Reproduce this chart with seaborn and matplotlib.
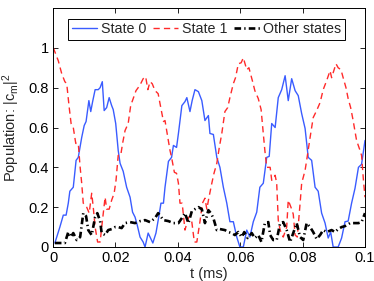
import numpy as np
import pandas as pd
import matplotlib
matplotlib.use("Agg")
import matplotlib.pyplot as plt
import seaborn as sns

# ---- data (t in ms) ----
t_state0 = [0.0006, 0.0022, 0.0033, 0.0042, 0.0049, 0.0054, 0.0065, 0.0074, 0.0081, 0.0092,
            0.0100, 0.0106, 0.0115, 0.0121, 0.0127, 0.0135, 0.0145, 0.0151, 0.0158, 0.0164,
            0.0172, 0.0180, 0.0188, 0.0193, 0.0201, 0.0209, 0.0215, 0.0225, 0.0236, 0.0247,
            0.0255, 0.0263, 0.0270, 0.0279, 0.0289, 0.0295, 0.0305, 0.0311, 0.0320, 0.0330,
            0.0341, 0.0346, 0.0354, 0.0359, 0.0370, 0.0380, 0.0386, 0.0396, 0.0402, 0.0413,
            0.0423, 0.0429, 0.0439, 0.0446, 0.0455, 0.0466, 0.0477, 0.0487, 0.0498, 0.0503,
            0.0514, 0.0525, 0.0535, 0.0546, 0.0557, 0.0567, 0.0578, 0.0589, 0.0599, 0.0610,
            0.0621, 0.0631, 0.0642, 0.0653, 0.0663, 0.0674, 0.0685, 0.0693, 0.0701, 0.0712,
            0.0722, 0.0733, 0.0744, 0.0754, 0.0765, 0.0776, 0.0786, 0.0797, 0.0808, 0.0818,
            0.0829, 0.0840, 0.0850, 0.0861, 0.0872, 0.0882, 0.0890, 0.0898, 0.0914, 0.0925,
            0.0936, 0.0946, 0.0957, 0.0968, 0.0979, 0.0989, 0.1000]
p_state0 = [0.02, 0.10, 0.16, 0.16, 0.22, 0.28, 0.30, 0.435, 0.45, 0.55,
            0.61, 0.63, 0.735, 0.68, 0.73, 0.79, 0.79, 0.80, 0.83, 0.685,
            0.70, 0.75, 0.71, 0.69, 0.62, 0.485, 0.42, 0.38, 0.30, 0.25,
            0.175, 0.15, 0.11, 0.05, 0.025, 0.0, 0.07, 0.05, 0.02, 0.07,
            0.17, 0.22, 0.22, 0.30, 0.43, 0.45, 0.51, 0.50, 0.57, 0.71,
            0.73, 0.75, 0.68, 0.735, 0.79, 0.78, 0.735, 0.635, 0.66, 0.57,
            0.565, 0.45, 0.40, 0.30, 0.22, 0.127, 0.127, 0.05, 0.0, 0.0,
            0.085, 0.05, 0.127, 0.175, 0.30, 0.32, 0.45, 0.455, 0.62, 0.60,
            0.75, 0.79, 0.86, 0.735, 0.845, 0.785, 0.76, 0.67, 0.595, 0.45,
            0.435, 0.30, 0.28, 0.17, 0.12, 0.045, 0.075, 0.0, 0.0, 0.045,
            0.127, 0.13, 0.22, 0.295, 0.40, 0.415, 0.535]

t_state1 = [0.0001, 0.0017, 0.0028, 0.0038, 0.0044, 0.0052, 0.0058, 0.0065, 0.0073, 0.0081,
            0.0087, 0.0092, 0.0097, 0.0108, 0.0116, 0.0124, 0.0129, 0.0135, 0.0143, 0.0151,
            0.0159, 0.0167, 0.0172, 0.0180, 0.0188, 0.0196, 0.0202, 0.0209, 0.0217, 0.0223,
            0.0231, 0.0241, 0.0249, 0.0257, 0.0266, 0.0273, 0.0281, 0.0289, 0.0297, 0.0304,
            0.0311, 0.0318, 0.0327, 0.0337, 0.0343, 0.0354, 0.0359, 0.0368, 0.0375, 0.0380,
            0.0389, 0.0396, 0.0402, 0.0407, 0.0414, 0.0423, 0.0434, 0.0445, 0.0453, 0.0461,
            0.0471, 0.0479, 0.0487, 0.0493, 0.0500, 0.0509, 0.0516, 0.0525, 0.0533, 0.0541,
            0.0551, 0.0560, 0.0567, 0.0578, 0.0585, 0.0594, 0.0603, 0.0610, 0.0621, 0.0628,
            0.0639, 0.0647, 0.0658, 0.0667, 0.0674, 0.0679, 0.0685, 0.0696, 0.0701, 0.0712,
            0.0717, 0.0722, 0.0728, 0.0738, 0.0749, 0.0754, 0.0765, 0.0770, 0.0776, 0.0783,
            0.0792, 0.0797, 0.0808, 0.0813, 0.0824, 0.0834, 0.0845, 0.0856, 0.0866, 0.0877,
            0.0888, 0.0893, 0.0898, 0.0907, 0.0914, 0.0923, 0.0930, 0.0939, 0.0946, 0.0954,
            0.0962, 0.0973, 0.0984, 0.0989, 0.0995, 0.1000]
p_state1 = [1.0, 0.935, 0.87, 0.83, 0.82, 0.70, 0.62, 0.60, 0.52, 0.52,
            0.40, 0.32, 0.22, 0.20, 0.17, 0.27, 0.20, 0.10, 0.025, 0.025,
            0.14, 0.25, 0.19, 0.19, 0.235, 0.27, 0.335, 0.46, 0.46, 0.52,
            0.585, 0.62, 0.71, 0.745, 0.785, 0.80, 0.82, 0.845, 0.855, 0.79,
            0.83, 0.82, 0.785, 0.77, 0.72, 0.63, 0.635, 0.55, 0.485, 0.45,
            0.375, 0.37, 0.32, 0.22, 0.22, 0.085, 0.15, 0.125, 0.025, 0.025,
            0.127, 0.22, 0.245, 0.19, 0.25, 0.32, 0.37, 0.42, 0.50, 0.57,
            0.68, 0.70, 0.75, 0.82, 0.85, 0.92, 0.925, 0.95, 0.89, 0.90,
            0.835, 0.785, 0.745, 0.69, 0.57, 0.485, 0.40, 0.40, 0.335, 0.36,
            0.32, 0.135, 0.085, 0.05, 0.10, 0.235, 0.19, 0.165, 0.06, 0.05,
            0.22, 0.32, 0.385, 0.435, 0.55, 0.65, 0.685, 0.725, 0.79, 0.835,
            0.885, 0.85, 0.875, 0.92, 0.90, 0.89, 0.85, 0.80, 0.745, 0.70,
            0.635, 0.535, 0.485, 0.46, 0.335, 0.25]

t_other = [0.0006, 0.0022, 0.0038, 0.0049, 0.0057, 0.0065, 0.0076, 0.0087, 0.0097, 0.0106,
           0.0113, 0.0124, 0.0135, 0.0142, 0.0151, 0.0156, 0.0167, 0.0177, 0.0188, 0.0199,
           0.0209, 0.0220, 0.0231, 0.0247, 0.0263, 0.0279, 0.0295, 0.0311, 0.0327, 0.0337,
           0.0354, 0.0370, 0.0386, 0.0402, 0.0413, 0.0423, 0.0434, 0.0445, 0.0455, 0.0466,
           0.0477, 0.0487, 0.0498, 0.0506, 0.0514, 0.0525, 0.0535, 0.0551, 0.0562, 0.0573,
           0.0583, 0.0594, 0.0605, 0.0613, 0.0624, 0.0637, 0.0647, 0.0658, 0.0668, 0.0679,
           0.0690, 0.0696, 0.0706, 0.0717, 0.0728, 0.0738, 0.0749, 0.0760, 0.0770, 0.0781,
           0.0792, 0.0802, 0.0813, 0.0824, 0.0834, 0.0845, 0.0856, 0.0866, 0.0877, 0.0893,
           0.0904, 0.0914, 0.0925, 0.0936, 0.0952, 0.0968, 0.0979, 0.0989, 0.1000]
p_other = [0.02, 0.02, 0.02, 0.075, 0.05, 0.07, 0.035, 0.05, 0.17, 0.155,
           0.085, 0.06, 0.15, 0.17, 0.13, 0.07, 0.06, 0.085, 0.09, 0.10,
           0.10, 0.095, 0.12, 0.125, 0.12, 0.13, 0.135, 0.125, 0.145, 0.17,
           0.135, 0.13, 0.12, 0.12, 0.145, 0.17, 0.12, 0.18, 0.19, 0.20,
           0.19, 0.12, 0.185, 0.17, 0.145, 0.085, 0.09, 0.085, 0.075, 0.07,
           0.06, 0.075, 0.05, 0.075, 0.045, 0.07, 0.045, 0.06, 0.025, 0.12,
           0.125, 0.06, 0.035, 0.035, 0.12, 0.125, 0.085, 0.025, 0.07, 0.12,
           0.05, 0.035, 0.12, 0.10, 0.075, 0.04, 0.06, 0.085, 0.075, 0.085,
           0.075, 0.09, 0.10, 0.105, 0.12, 0.12, 0.12, 0.125, 0.17]

series_names = ["State 0", "State 1", "Other states"]
x_ticks = [0, 0.02, 0.04, 0.06, 0.08, 0.1]
x_ticklabels = ["0", "0.02", "0.04", "0.06", "0.08", "0.1"]
y_ticks = [0, 0.2, 0.4, 0.6, 0.8, 1.0]
y_ticklabels = ["0", "0.2", "0.4", "0.6", "0.8", "1"]

# ---- style ----
sns.set_theme(style="ticks")
plt.rcParams['font.family'] = ['Liberation Sans', 'DejaVu Sans']
plt.rcParams['mathtext.fontset'] = 'custom'
plt.rcParams['mathtext.rm'] = 'Liberation Sans'
plt.rcParams['mathtext.it'] = 'Liberation Sans'
plt.rcParams['xtick.direction'] = 'in'
plt.rcParams['ytick.direction'] = 'in'
plt.rcParams['axes.linewidth'] = 0.7

fig = plt.figure(figsize=(3.74, 2.81), dpi=100)
ax = fig.add_axes([53/374, 1 - 247/281, 312/374, 239/281])

df0 = pd.DataFrame({"t": t_state0, "p": p_state0})
df1 = pd.DataFrame({"t": t_state1, "p": p_state1})
df2 = pd.DataFrame({"t": t_other, "p": p_other})

sns.lineplot(data=df0, x="t", y="p", ax=ax, color="#3a5cff", lw=1.0,
             estimator=None, sort=False, label=series_names[0])
sns.lineplot(data=df1, x="t", y="p", ax=ax, color="#ff2a2a", lw=1.0,
             linestyle=(0, (4.5, 3.0)), estimator=None, sort=False, label=series_names[1])
sns.lineplot(data=df2, x="t", y="p", ax=ax, color="black", lw=1.9,
             linestyle=(0, (2.5, 1.2, 0.5, 1.2)), estimator=None, sort=False,
             label=series_names[2])

ax.set_xlim(0, 0.1)
ax.set_ylim(0, 1.2)
ax.set_xticks(x_ticks)
ax.set_xticklabels(x_ticklabels)
ax.set_yticks(y_ticks)
ax.set_yticklabels(y_ticklabels)
ax.tick_params(axis='both', which='both', direction='in', length=3.5, width=0.6,
               labelsize=10.5, top=True, right=True, pad=3, colors='black')
for s in ax.spines.values():
    s.set_visible(True)
    s.set_color('black')
    s.set_linewidth(0.7)

ax.set_xlabel("t (ms)", fontsize=10.5, labelpad=1)
ax.set_ylabel(r"Population: |c$_\mathregular{m}$|$^\mathregular{2}$", fontsize=10.5, labelpad=5)

leg = ax.legend(loc="upper center", bbox_to_anchor=(0.492, 0.955), ncol=3,
                fontsize=10.3, frameon=True, fancybox=False, edgecolor='black',
                framealpha=1, borderaxespad=0, handlelength=1.8, handletextpad=0.25,
                columnspacing=0.45, borderpad=0.25)
leg.get_frame().set_linewidth(0.7)

fig.savefig("out.png", dpi=100)
